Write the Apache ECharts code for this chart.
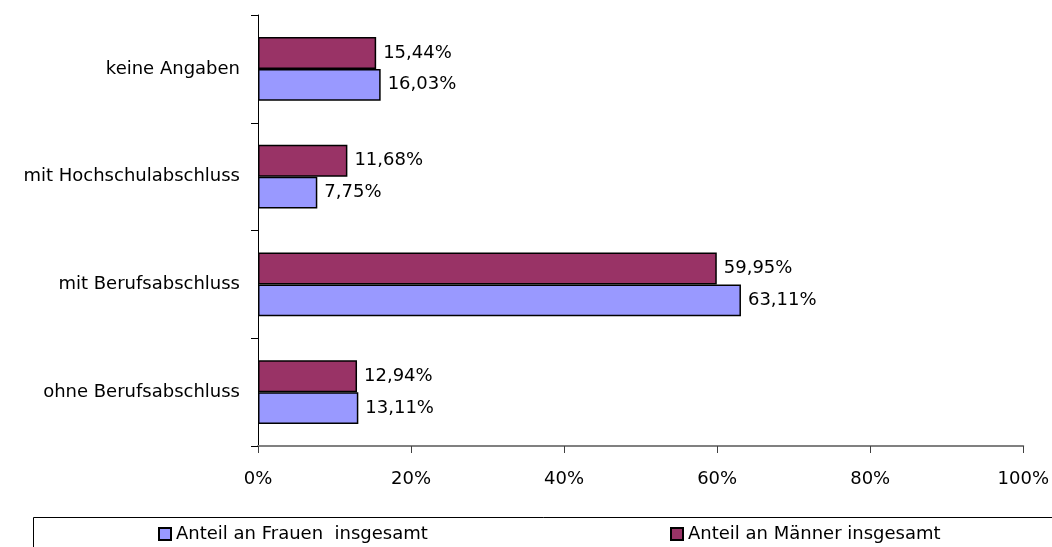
<!DOCTYPE html>
<html>
<head>
<meta charset="utf-8">
<script src="https://cdn.jsdelivr.net/npm/echarts@6/dist/echarts.min.js"></script>
<style>
html,body{margin:0;padding:0;background:#fff;}
#chart{width:1052px;height:547px;}
</style>
</head>
<body>
<div id="chart"></div>
<script>
const categories = ['ohne Berufsabschluss', 'mit Berufsabschluss', 'mit Hochschulabschluss', 'keine Angaben'];
const frauenName = 'Anteil an Frauen  insgesamt';
const maennerName = 'Anteil an Männer insgesamt';
const frauenValues = [13.11, 63.11, 7.75, 16.03];
const maennerValues = [12.94, 59.95, 11.68, 15.44];
const xTicks = [0, 20, 40, 60, 80, 100];

const FONT = 'DejaVu Sans';
const fmt = v => v.toFixed(2).replace('.', ',') + '%';

const chart = echarts.init(document.getElementById('chart'), null, {renderer: 'canvas'});
chart.setOption({
  animation: false,
  backgroundColor: '#ffffff',
  textStyle: {fontFamily: FONT, color: '#000'},
  grid: {left: 258, right: 28, top: 15, bottom: 101, containLabel: false},
  xAxis: {
    type: 'value',
    min: xTicks[0], max: xTicks[xTicks.length - 1], interval: 20,
    axisLine: {show: true, lineStyle: {color: '#808080', width: 2}},
    axisTick: {show: true, length: 7, lineStyle: {color: '#404040', width: 1}},
    splitLine: {show: false},
    axisLabel: {formatter: '{value}%', fontFamily: FONT, fontSize: 18, color: '#000', margin: 24}
  },
  yAxis: {
    type: 'category',
    data: categories,
    axisLine: {show: true, lineStyle: {color: '#000', width: 1}},
    axisTick: {show: true, length: 7, lineStyle: {color: '#000', width: 1}},
    axisLabel: {fontFamily: FONT, fontSize: 18, color: '#000', margin: 18}
  },
  legend: [
    {data: [frauenName], left: 153, top: 520, icon: 'rect', itemWidth: 12, itemHeight: 12, itemGap: 0,
     textStyle: {fontFamily: FONT, fontSize: 18, color: '#000'}},
    {data: [maennerName], left: 665, top: 520, icon: 'rect', itemWidth: 12, itemHeight: 12, itemGap: 0,
     textStyle: {fontFamily: FONT, fontSize: 18, color: '#000'}}
  ],
  graphic: [{
    type: 'rect', shape: {x: 33.5, y: 517.5, width: 1100, height: 80},
    style: {fill: 'none', stroke: '#000', lineWidth: 1}, silent: true
  }],
  series: [
    {
      name: maennerName, type: 'bar', data: maennerValues,
      barGap: '0%', barCategoryGap: '41%',
      itemStyle: {color: '#993366', borderColor: '#000', borderWidth: 1.5},
      label: {show: true, position: 'right', distance: 7, fontFamily: FONT, fontSize: 18, color: '#000',
              formatter: p => fmt(p.value)}
    },
    {
      name: frauenName, type: 'bar', data: frauenValues,
      barGap: '0%', barCategoryGap: '41%',
      itemStyle: {color: '#9999FF', borderColor: '#000', borderWidth: 1.5},
      label: {show: true, position: 'right', distance: 7, fontFamily: FONT, fontSize: 18, color: '#000',
              formatter: p => fmt(p.value)}
    }
  ]
});
</script>
</body>
</html>
